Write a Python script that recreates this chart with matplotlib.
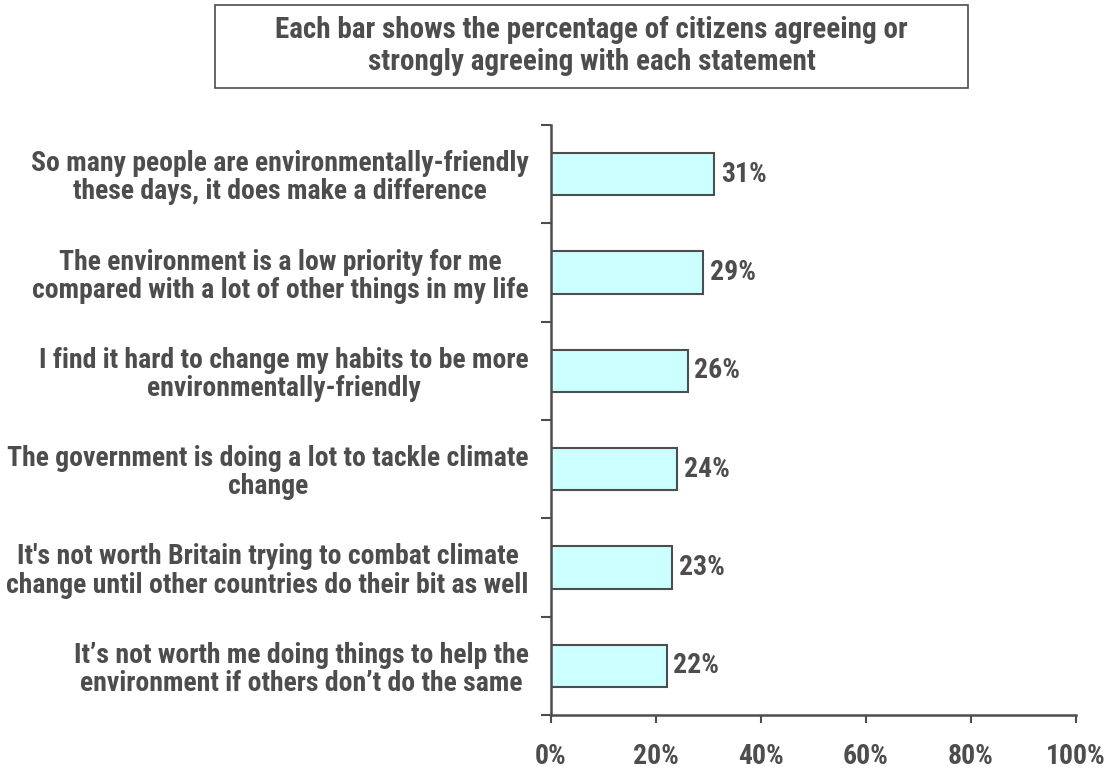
import matplotlib
matplotlib.use("Agg")
import matplotlib.pyplot as plt
from matplotlib.patches import Rectangle
import numpy as np

categories = [
    "So many people are environmentally-friendly\nthese days, it does make a difference",
    "The environment is a low priority for me\ncompared with a lot of other things in my life",
    "I find it hard to change my habits to be more\nenvironmentally-friendly",
    "The government is doing a lot to tackle climate\nchange",
    "It's not worth Britain trying to combat climate\nchange until other countries do their bit as well",
    "It\u2019s not worth me doing things to help the\nenvironment if others don\u2019t do the same",
]
values = [31, 29, 26, 24, 23, 22]
xticks = [0, 20, 40, 60, 80, 100]
xtick_labels = ["0%", "20%", "40%", "60%", "80%", "100%"]
title = "Each bar shows the percentage of citizens agreeing or\nstrongly agreeing with each statement"

FAM = ["Roboto Condensed", "Liberation Sans", "DejaVu Sans"]
TXT = "#4D4D4D"
FS = 20
plt.rcParams["font.family"] = FAM

fig = plt.figure(figsize=(11.05, 7.71), dpi=100)
W, H = 1105, 771
ax = fig.add_axes([551 / W, 1 - 715 / H, (1076 - 551) / W, (715 - 125) / H])

y = np.arange(len(categories))
ax.barh(y, values, height=0.43, color="#CCFFFF", edgecolor="#4D4D4D", linewidth=1.5)
ax.set_xlim(0, 100)
ax.set_ylim(len(categories) - 0.5, -0.5)

for yi, v in zip(y, values):
    ax.annotate(f"{v}%", xy=(v, yi), xytext=(5, 0), textcoords="offset points",
                ha="left", va="center", fontsize=FS, fontweight="bold", color=TXT)

ax.set_yticks(y)
ax.set_yticklabels(categories, fontsize=FS, fontweight="bold", color=TXT,
                   multialignment="center", linespacing=1.05)
ax.tick_params(axis="y", which="major", length=0, pad=16)
ax.set_yticks(np.arange(-0.5, len(categories), 1.0), minor=True)
ax.tick_params(axis="y", which="minor", length=7, width=1.5, color="#4D4D4D")

ax.set_xticks(xticks)
ax.set_xticklabels(xtick_labels, fontsize=FS, fontweight="bold", color=TXT)
ax.tick_params(axis="x", length=6, width=1.5, color="#4D4D4D", pad=14.5)

for s in ["top", "right"]:
    ax.spines[s].set_visible(False)
for s in ["left", "bottom"]:
    ax.spines[s].set_color("#4D4D4D")
    ax.spines[s].set_linewidth(1.8)

# Title box
fig.patches.append(Rectangle((215 / W, 1 - 88 / H), (968 - 215) / W, (88 - 5) / H,
                             transform=fig.transFigure, facecolor="white",
                             edgecolor="#4D4D4D", linewidth=1.2))
fig.text(591.5 / W, 1 - 46 / H, title, ha="center", va="center", fontsize=21,
         fontweight="bold", color=TXT, linespacing=1.2)

fig.savefig("out.png", dpi=100)
